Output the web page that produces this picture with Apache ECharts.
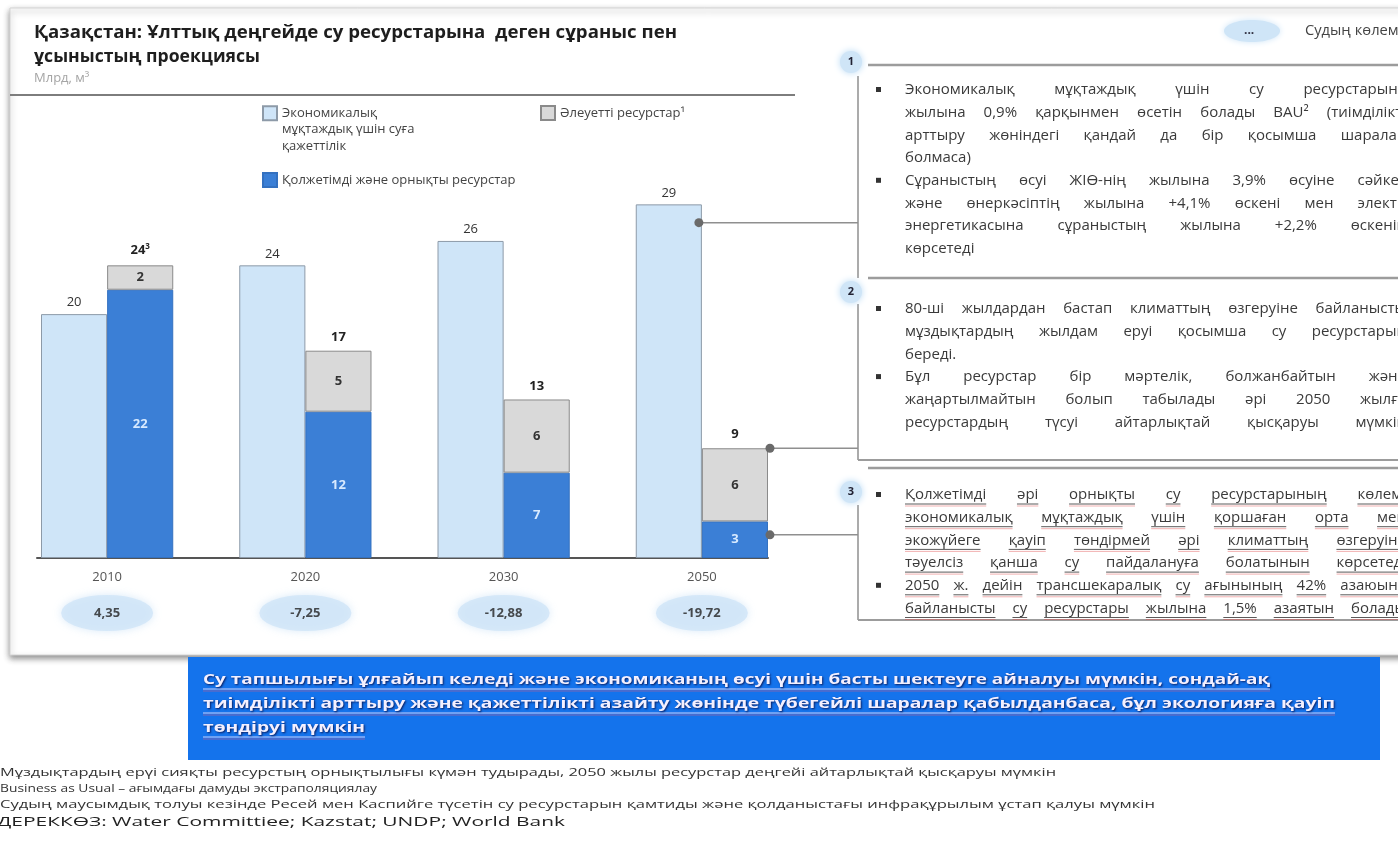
<!DOCTYPE html>
<html><head><meta charset="utf-8">
<script src="https://cdn.jsdelivr.net/npm/echarts@6/dist/echarts.min.js"></script>
<style>html,body{margin:0;padding:0;background:#fff;overflow:hidden}#c{width:1398px;height:847px}</style>
</head><body><div id="c"></div>
<script>
const FONT = '"Open Sans", "Noto Sans", "DejaVu Sans", sans-serif';
const FF = '"Open Sans", "Noto Sans", sans-serif';

// ---- data ----
const years = ['2010', '2020', '2030', '2050'];
const demand = [20, 24, 26, 29];
const available = [22, 12, 7, 3];
const potential = [2, 5, 6, 6];
const totals = [24, 17, 13, 9];
const totalNotes = ['3', '', '', ''];
const balance = [4.35, -7.25, -12.88, -19.72];
const seriesNames = ['Экономикалық\nмұқтаждық үшін суға\nқажеттілік', 'Әлеуетті ресурстар¹', 'Қолжетімді және орнықты ресурстар'];
// callout anchors: [category index, bar slot (0 demand, 1 supply), value]
const callouts = [[3, 0, 27.5], [3, 1, 9], [3, 1, 1.9]];

// ---- texts ----
const titleLines = ['Қазақстан: Ұлттық деңгейде су ресурстарына  деген сұраныс пен', 'ұсыныстың проекциясы'];
const unitText = 'Млрд, м³';
const keyText = 'Судың көлемінің тапшылығы';
const panels = [
  { badge: '1', underline: false, lines: [
    ['Экономикалық мұқтаждық үшін су ресурстарына', 1, 1],
    ['жылына 0,9% қарқынмен өсетін болады BAU² (тиімділікті', 0, 1],
    ['арттыру жөніндегі қандай да бір қосымша шаралар', 0, 1],
    ['болмаса)', 0, 0],
    ['Сұраныстың өсуі ЖІӨ-нің жылына 3,9% өсуіне сәйкес', 1, 1],
    ['және өнеркәсіптің жылына +4,1% өскені мен электр', 0, 1],
    ['энергетикасына сұраныстың жылына +2,2% өскенін', 0, 1],
    ['көрсетеді', 0, 0]] },
  { badge: '2', underline: false, lines: [
    ['80-ші жылдардан бастап климаттың өзгеруіне байланысты', 1, 1],
    ['мұздықтардың жылдам еруі қосымша су ресурстарын', 0, 1],
    ['береді.', 0, 0],
    ['Бұл ресурстар бір мәртелік, болжанбайтын және', 1, 1],
    ['жаңартылмайтын болып табылады әрі 2050 жылға', 0, 1],
    ['ресурстардың түсуі айтарлықтай қысқаруы мүмкін', 0, 1]] },
  { badge: '3', underline: true, lines: [
    ['Қолжетімді әрі орнықты су ресурстарының көлемі', 1, 1],
    ['экономикалық мұқтаждық үшін қоршаған орта мен', 0, 1],
    ['экожүйеге қауіп төндірмей әрі климаттың өзгеруіне', 0, 1],
    ['тәуелсіз қанша су пайдалануға болатынын көрсетеді', 0, 1],
    ['2050 ж. дейін трансшекаралық су ағынының 42% азаюына', 1, 1],
    ['байланысты су ресурстары жылына 1,5% азаятын болады', 0, 1]] }
];
const bannerLines = [
  'Су тапшылығы ұлғайып келеді және экономиканың өсуі үшін басты шектеуге айналуы мүмкін, сондай-ақ',
  'тиімділікті арттыру және қажеттілікті азайту жөнінде түбегейлі шаралар қабылданбаса, бұл экологияға қауіп',
  'төндіруі мүмкін'
];
const footLines = [
  'Мұздықтардың ерүі сияқты ресурстың орнықтылығы күмән тудырады, 2050 жылы ресурстар деңгейі айтарлықтай қысқаруы мүмкін',
  'Business as Usual – ағымдағы дамуды экстраполяциялау',
  'Судың маусымдық толуы кезінде Ресей мен Каспийге түсетін су ресурстарын қамтиды және қолданыстағы инфрақұрылым ұстап қалуы мүмкін',
  'ДЕРЕККӨЗ: Water Committiee; Kazstat; UNDP; World Bank'
];

const fmt = v => v.toFixed(2).replace('.', ',');

const chart = echarts.init(document.getElementById('c'), null, { renderer: 'canvas' });
const lbl = { fontFamily: FONT, fontSize: 13 };

chart.setOption({
  backgroundColor: '#ffffff',
  animation: false,
  grid: [
    { left: 8, width: 793, top: 119, height: 439, outerBoundsMode: 'none' },
    { left: 8, width: 793, top: 595, height: 36, outerBoundsMode: 'none' },
    { left: 37, width: 731, top: 500, height: 58, outerBoundsMode: 'none' }
  ],
  xAxis: [
    { type: 'category', gridIndex: 0, data: years, axisLine: { show: false }, axisTick: { show: false },
      axisLabel: { color: '#555', fontSize: 13, fontFamily: FONT, margin: 13 } },
    { type: 'category', gridIndex: 1, data: years, show: false },
    { type: 'value', gridIndex: 2, min: 0, max: 1, axisLine: { show: true, onZero: false, lineStyle: { color: '#555', width: 2 } },
      axisTick: { show: false }, axisLabel: { show: false }, splitLine: { show: false } }
  ],
  yAxis: [
    { type: 'value', gridIndex: 0, min: 0, max: 36, show: false },
    { type: 'value', gridIndex: 1, min: -1, max: 1, show: false },
    { type: 'value', gridIndex: 2, min: 0, max: 1, show: false }
  ],
  legend: [
    { data: [seriesNames[0]], left: 262, top: 72, padding: 0, itemWidth: 14, itemHeight: 14, icon: 'rect', selectedMode: false,
      formatter: n => '\n\n' + n,
      textStyle: { fontFamily: FONT, fontSize: 13, color: '#444', lineHeight: 16.5 } },
    { data: [seriesNames[1]], left: 540, top: 105, padding: 0, itemWidth: 14, itemHeight: 14, icon: 'rect', selectedMode: false,
      textStyle: { fontFamily: FONT, fontSize: 13, color: '#444', lineHeight: 16 } },
    { data: [seriesNames[2]], left: 262, top: 172, padding: 0, itemWidth: 14, itemHeight: 14, icon: 'rect', selectedMode: false,
      textStyle: { fontFamily: FONT, fontSize: 13, color: '#444', lineHeight: 16 } }
  ],
  series: [
    { name: seriesNames[0], type: 'bar', xAxisIndex: 0, yAxisIndex: 0, data: demand, barGap: '0%', barCategoryGap: '33.3%',
      itemStyle: { color: '#cfe5f8', borderColor: '#8d9aa8', borderWidth: 1 },
      label: Object.assign({ show: true, position: 'top', distance: 5, color: '#333' }, lbl) },
    { name: seriesNames[2], type: 'bar', stack: 'supply', xAxisIndex: 0, yAxisIndex: 0, data: available, barGap: '0%', barCategoryGap: '33.3%',
      itemStyle: { color: '#3b7fd6', borderColor: '#3471c0', borderWidth: 1 },
      label: Object.assign({ show: true, position: 'inside', color: '#d8eaff', fontWeight: 'bold' }, lbl) },
    { name: seriesNames[1], type: 'bar', stack: 'supply', xAxisIndex: 0, yAxisIndex: 0, data: potential, barGap: '0%', barCategoryGap: '33.3%',
      itemStyle: { color: '#d9d9d9', borderColor: '#8a8a8a', borderWidth: 1 },
      label: Object.assign({ show: true, position: 'inside', color: '#333', fontWeight: 'bold' }, lbl) },
    { name: 'total', type: 'bar', stack: 'supply', xAxisIndex: 0, yAxisIndex: 0, data: years.map(() => 0), barGap: '0%', barCategoryGap: '33.3%',
      itemStyle: { color: 'rgba(0,0,0,0)' },
      label: { show: true, position: 'top', distance: 7,
        formatter: p => '{v|' + totals[p.dataIndex] + '}' + (totalNotes[p.dataIndex] ? '{s|' + totalNotes[p.dataIndex] + '}' : ''),
        rich: { v: { fontFamily: FONT, fontSize: 13, fontWeight: 'bold', color: '#222' },
                s: { fontFamily: FONT, fontSize: 8, fontWeight: 'bold', color: '#222', padding: [0, 0, 8, 0] } } } },
    { type: 'scatter', xAxisIndex: 1, yAxisIndex: 1, data: balance.map((v, i) => [i, 0]), symbol: 'circle', symbolSize: [92, 36], silent: true,
      itemStyle: { color: '#cfe5f7', shadowBlur: 8, shadowColor: '#cfe5f7' },
      label: { show: true, position: 'inside', formatter: p => fmt(balance[p.dataIndex]), color: '#222', fontSize: 13, fontWeight: 'bold', fontFamily: FONT } }
  ]
});

// ---------- decorations ----------
const mctx = document.createElement('canvas').getContext('2d');
function tw(t, font) { mctx.font = font; return mctx.measureText(t).width; }
function textEl(x, y, text, font, fill, sx, extra) {
  return { type: 'text', x: x, y: y, scaleX: sx || 1, silent: true, z: 5,
    style: Object.assign({ text: text, font: font, fill: fill, align: 'left', verticalAlign: 'middle' }, extra || {}) };
}
const line = (x1, y1, x2, y2, stroke, w, z) => ({ type: 'line', silent: true, z: z || 3, shape: { x1, y1, x2, y2 }, style: { stroke, lineWidth: w } });
function lineEls(text, x, y, font, fill, sx, justifyTo, underline) {
  const words = text.split(' ');
  const ws = words.map(w => tw(w, font) * sx);
  const total = ws.reduce((a, b) => a + b, 0);
  const space = tw(' ', font) * sx;
  let gap = space;
  if (justifyTo && words.length > 1 && total + space * (words.length - 1) < justifyTo - x) gap = (justifyTo - x - total) / (words.length - 1);
  const els = []; let cx = x;
  words.forEach((w, i) => {
    els.push(textEl(cx, y, w, font, fill, sx));
    if (underline) {
      els.push(line(cx, y + 9, cx + ws[i], y + 9, '#5a5a5a', 1, 4));
      els.push(line(cx, y + 11, cx + ws[i], y + 11, 'rgba(225,80,80,0.45)', 1, 4));
    }
    cx += ws[i] + gap;
  });
  return els;
}
const fit = (text, font, target) => target / tw(text, font);

const G = [];
// card
G.push({ type: 'rect', silent: true, z: -100, shape: { x: 10, y: 8, width: 1400, height: 647 },
  style: { fill: '#fff', stroke: '#d4d4d4', lineWidth: 1, shadowBlur: 6, shadowColor: 'rgba(0,0,0,0.45)', shadowOffsetY: 3 } });
// title
const tFont = 'bold 18px ' + FF;
G.push(textEl(34, 33, titleLines[0], tFont, '#1e1e1e', fit(titleLines[0], tFont, 643)));
G.push(textEl(34, 57, titleLines[1], tFont, '#1e1e1e', fit(titleLines[1], tFont, 226)));
G.push(textEl(34, 78, unitText, '13px ' + FF, '#a5a5a5', 1));
G.push(line(10, 95, 795, 95, '#7d7d7d', 2));
// key top right
G.push({ type: 'ellipse', silent: true, z: 3, shape: { cx: 1252, cy: 31, rx: 28, ry: 11 }, style: { fill: '#cfe5f7', shadowBlur: 6, shadowColor: '#cfe5f7' } });
G.push(textEl(1244, 31, '...', 'bold 12px ' + FF, '#334', 1));
G.push(textEl(1305, 31, keyText, '14px ' + FF, '#444', 1.05));

// panels
const PX = 905, RIGHT = 1406, PFONT = '15px ' + FF, PSX = 1.0;
const panelGeo = [
  { badgeY: 62, top: 65, vTop: 76, vBot: 278, bottom: null, y0: 90 },
  { badgeY: 292, top: 278, vTop: 304, vBot: 460, bottom: 460, y0: 309 },
  { badgeY: 492, top: 468, vTop: 505, vBot: 620, bottom: 620, y0: 495 }
];
panels.forEach((p, k) => {
  const g = panelGeo[k];
  G.push(line(868, g.top, 1398, g.top, '#9c9c9c', 2.5));
  G.push(line(858, g.vTop, 858, g.vBot, '#8f8f8f', 1.5));
  if (g.bottom) G.push(line(858, g.bottom, 1398, g.bottom, '#9c9c9c', 2));
  G.push({ type: 'circle', silent: true, z: 6, shape: { cx: 851, cy: g.badgeY, r: 11 }, style: { fill: '#cfe5f7', shadowBlur: 7, shadowColor: '#b9daf4' } });
  G.push({ type: 'text', silent: true, z: 7, x: 851, y: g.badgeY, style: { text: p.badge, font: 'bold 11px ' + FF, fill: '#223', align: 'center', verticalAlign: 'middle' } });
  p.lines.forEach((ln, i) => {
    const y = g.y0 + i * 22.7;
    if (ln[1]) G.push({ type: 'rect', silent: true, z: 5, shape: { x: 876, y: y - 3, width: 5, height: 5 }, style: { fill: '#333' } });
    lineEls(ln[0], PX, y, PFONT, '#3a3a3a', PSX, ln[2] ? RIGHT : 0, p.underline).forEach(e => G.push(e));
  });
});

// banner
G.push({ type: 'rect', silent: true, z: 2, shape: { x: 188, y: 657, width: 1192, height: 103 }, style: { fill: '#1473ec' } });
const bFont = 'bold 15px ' + FF;
const bTargets = [1067, 1132, 162];
const bShadow = { textShadowColor: 'rgba(10,20,80,0.9)', textShadowBlur: 2, textShadowOffsetX: 1, textShadowOffsetY: 1 };
bannerLines.forEach((t, i) => {
  const y = 680 + i * 24;
  G.push(textEl(203, y, t, bFont, '#f3f0ff', fit(t, bFont, bTargets[i]), bShadow));
  G.push(line(203, y + 9, 203 + bTargets[i], y + 9, 'rgba(235,225,255,0.85)', 1, 4));
  G.push(line(203, y + 11, 203 + bTargets[i], y + 11, 'rgba(230,90,120,0.5)', 1, 4));
});

// footnotes
const fFont = '11px ' + FF;
const fTargets = [1056, 377, 1155];
[0, 1, 2].forEach(i => G.push(textEl(0, 773 + i * 16, footLines[i], fFont, '#333', fit(footLines[i], fFont, fTargets[i]))));
const f4Font = '13px ' + FF;
G.push(textEl(-3, 822, footLines[3], f4Font, '#222', fit(footLines[3], f4Font, 568)));

// callouts from bars to panels (positions through the chart's own scales)
const c0 = chart.convertToPixel({ xAxisIndex: 0 }, 0);
const c1 = chart.convertToPixel({ xAxisIndex: 0 }, 1);
const band = c1 - c0;
callouts.forEach(c => {
  const cx = chart.convertToPixel({ xAxisIndex: 0 }, c[0]);
  const y = chart.convertToPixel({ yAxisIndex: 0 }, c[2]);
  const x = cx + c[1] * band / 3 - (c[1] === 0 ? 3 : -2);
  G.push(line(x, y, 858, y, '#8f8f8f', 1.5, 9));
  G.push({ type: 'circle', silent: true, z: 10, shape: { cx: x, cy: y, r: 4.5 }, style: { fill: '#6a6a6a' } });
});

chart.setOption({ graphic: { elements: G } });
</script>
</body></html>
